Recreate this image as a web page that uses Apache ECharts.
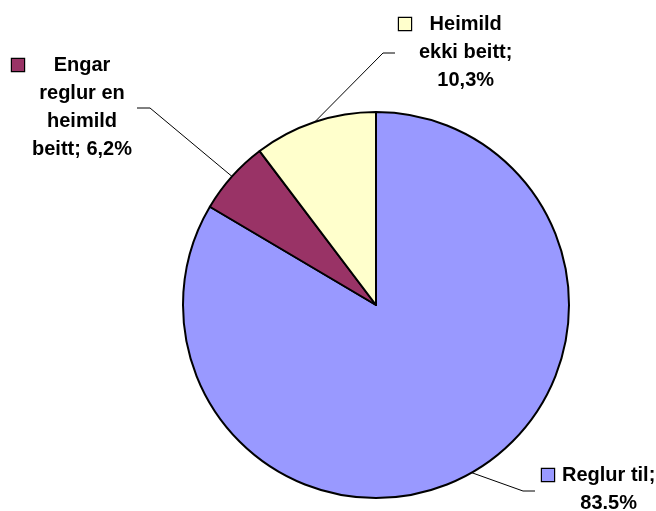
<!DOCTYPE html>
<html><head><meta charset="utf-8">
<script src="https://cdn.jsdelivr.net/npm/echarts@6/dist/echarts.min.js"></script>
<style>html,body{margin:0;padding:0;background:#fff}#c{width:656px;height:511px}</style>
</head><body><div id="c"></div>
<script>
const categories = ['Reglur til', 'Engar reglur en heimild beitt', 'Heimild ekki beitt'];
const values = [83.5, 6.2, 10.3];
const percentLabels = ['83.5%', '6,2%', '10,3%'];
// wrapped label lines as shown in the chart
const labelLines = [
  ['Reglur til;', percentLabels[0]],
  ['Engar', 'reglur en', 'heimild', 'beitt; ' + percentLabels[1]],
  ['Heimild', 'ekki beitt;', percentLabels[2]]
];
const colors = ['#9999FF', '#993366', '#FFFFCC'];

// layout (not data)
const labelPos = [[542, 461], [12, 51], [399, 10]];
const lineElbow = [[[523, 491], [535, 491]], [[150, 108], [137, 108]], [[383, 53], [395, 53]]];

const font = { fontSize: 20, fontWeight: 'bold', fontFamily: 'Liberation Sans, Arial, sans-serif', color: '#000', lineHeight: 28 };
const rich = {
  g: { width: 8, height: 12, lineHeight: 28 },
  s: { width: 20, height: 12, lineHeight: 28 },
  t: Object.assign({ align: 'center' }, font)
};
colors.forEach((c, i) => {
  rich['k' + i] = { width: 12, height: 12, backgroundColor: c, borderColor: '#000', borderWidth: 1.2, lineHeight: 28 };
});

const chart = echarts.init(document.getElementById('c'), null, { renderer: 'canvas' });
chart.setOption({
  animation: false,
  backgroundColor: '#fff',
  series: [{
    type: 'pie',
    center: [376, 305],
    radius: 193,
    startAngle: 90,
    clockwise: true,
    avoidLabelOverlap: false,
    emphasis: { disabled: true },
    data: categories.map((n, i) => ({ name: n, value: values[i], itemStyle: { color: colors[i] } })),
    itemStyle: { borderColor: '#000', borderWidth: 2 },
    label: {
      show: true,
      position: 'outside',
      formatter: p => labelLines[p.dataIndex].map((l, j) =>
        j === 0 ? '{k' + p.dataIndex + '|}{g|}{t|' + l + '}' : '{s|}{t|' + l + '}').join('\n'),
      rich: rich
    },
    labelLine: { show: true, length: 20, length2: 12, lineStyle: { color: '#000', width: 1 } },
    labelLayout: function (params) {
      const i = params.dataIndex;
      const pts = params.labelLinePoints ? params.labelLinePoints.map(p => p.slice()) : null;
      const res = { x: labelPos[i][0], y: labelPos[i][1], align: 'left', verticalAlign: 'top' };
      if (pts) {
        pts[1] = lineElbow[i][0].slice();
        pts[2] = lineElbow[i][1].slice();
        res.labelLinePoints = pts;
      }
      return res;
    }
  }]
});
</script>
</body></html>
